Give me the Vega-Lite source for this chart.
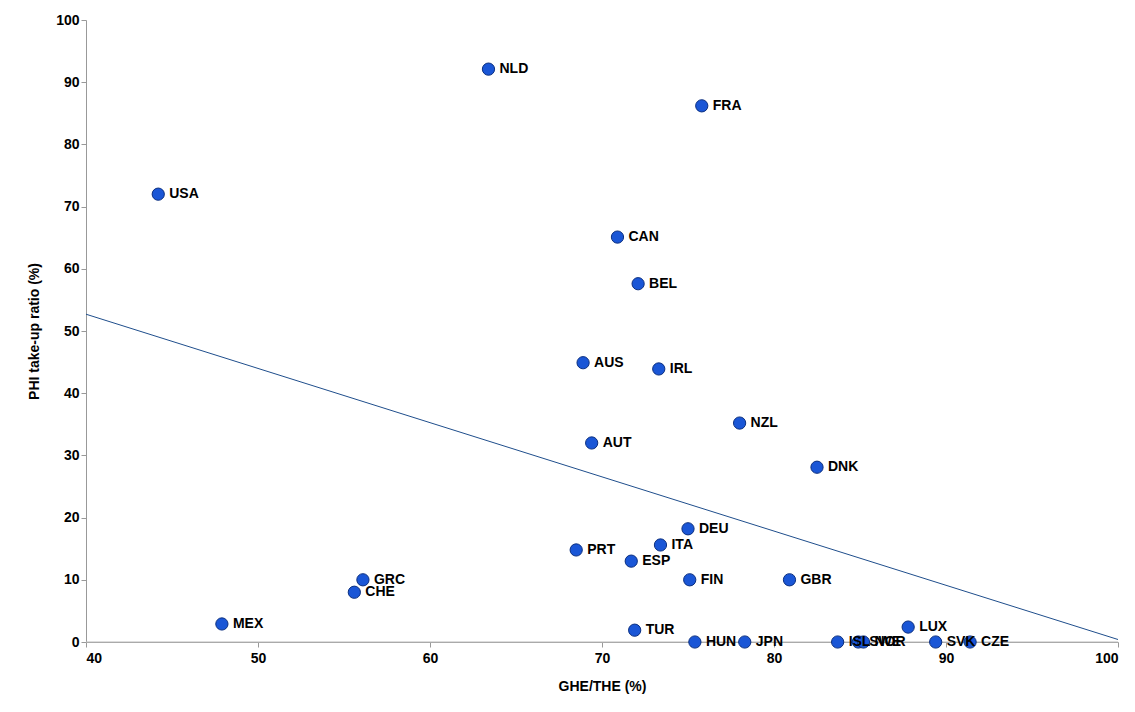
{
"$schema":"https://vega.github.io/schema/vega-lite/v6.json",
"width":1032,"height":622,
"padding":{"left":27,"top":13,"right":20,"bottom":5},
"background":"white",
"config":{"view":{"stroke":null},"font":"Liberation Sans"},
"datasets":{
"pts":[
{"c":"NLD","x":63.4,"y":92.1},{"c":"FRA","x":75.8,"y":86.2},{"c":"USA","x":44.2,"y":72},
{"c":"CAN","x":70.9,"y":65.1},{"c":"BEL","x":72.1,"y":57.6},{"c":"AUS","x":68.9,"y":44.9},
{"c":"IRL","x":73.3,"y":43.9},{"c":"NZL","x":78.0,"y":35.2},{"c":"AUT","x":69.4,"y":32},
{"c":"DNK","x":82.5,"y":28.1},{"c":"DEU","x":75.0,"y":18.2},{"c":"ITA","x":73.4,"y":15.6},
{"c":"PRT","x":68.5,"y":14.8},{"c":"ESP","x":71.7,"y":13},{"c":"GRC","x":56.1,"y":10},
{"c":"CHE","x":55.6,"y":8},{"c":"FIN","x":75.1,"y":10},{"c":"GBR","x":80.9,"y":10},
{"c":"MEX","x":47.9,"y":2.9},{"c":"TUR","x":71.9,"y":1.9},{"c":"HUN","x":75.4,"y":0},
{"c":"JPN","x":78.3,"y":0},{"c":"ISL","x":83.7,"y":0},{"c":"SWE","x":84.9,"y":0},
{"c":"NOR","x":85.2,"y":0},{"c":"LUX","x":87.8,"y":2.4},{"c":"SVK","x":89.4,"y":0},
{"c":"CZE","x":91.4,"y":0}],
"trend":[{"x":40,"y":52.7},{"x":100,"y":0.4}]
},
"layer":[
{"data":{"values":[{"y":0}]},"mark":{"type":"rule","color":"#bbbbbb"},"encoding":{"y":{"field":"y","type":"quantitative","scale":{"domain":[0,100]}}}},
{"data":{"name":"trend"},"mark":{"type":"line","color":"#1f4e8c","strokeWidth":1},
"encoding":{
"x":{"field":"x","type":"quantitative","scale":{"domain":[40,100]},"title":"GHE/THE (%)",
"axis":{"tickCount":6,"grid":false,"domainColor":"#999","tickColor":"#999","labelFontWeight":"bold","labelFontSize":14,"titleFontSize":14,"labelColor":"#000","titlePadding":14,"labelPadding":4}},
"y":{"field":"y","type":"quantitative","scale":{"domain":[0,100]},"title":"PHI take-up ratio (%)",
"axis":{"tickCount":10,"grid":false,"domainColor":"#999","tickColor":"#999","labelFontWeight":"bold","labelFontSize":14,"titleFontSize":14,"labelColor":"#000","titlePadding":14}}}},
{"data":{"name":"pts"},"mark":{"type":"circle","size":150,"color":"#1a56d6","stroke":"#0b2f80","strokeWidth":1,"opacity":1},
"encoding":{"x":{"field":"x","type":"quantitative"},"y":{"field":"y","type":"quantitative"}}},
{"data":{"name":"pts"},"mark":{"type":"text","align":"left","dx":11,"fontSize":14,"fontWeight":"bold","color":"#000"},
"encoding":{"x":{"field":"x","type":"quantitative"},"y":{"field":"y","type":"quantitative"},"text":{"field":"c"}}}
]
}
